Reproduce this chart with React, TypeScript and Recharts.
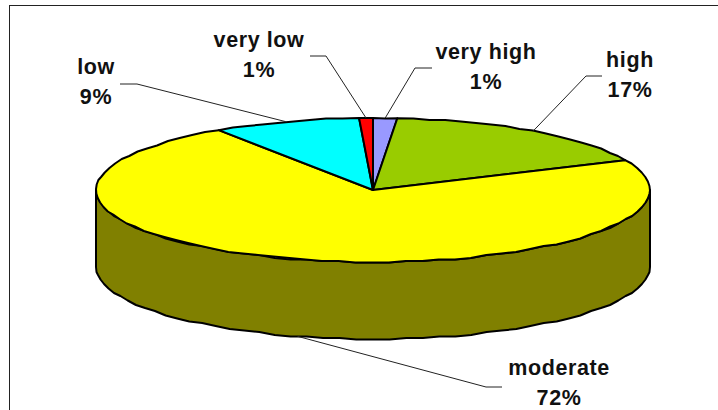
import { PieChart, Pie, Cell } from "recharts";

const categories = ["very high", "high", "moderate", "low", "very low"];
const shares = [1.4, 16.8, 72.4, 8.6, 0.8];
const colors = ["#9999ff", "#99cc00", "#ffff00", "#00ffff", "#ff0000"];

const data = categories.map((name, i) => ({ name, value: shares[i] }));

const FLATTEN = 0.26;
const DEPTH = 77;
const WALL = "#808000";

// text centre + elbow of the leader line for each label, same order as categories
const labelSpots = [
  { x: 486, y: 52, elbow: [415, 68], end: [432, 68] },
  { x: 630, y: 60, elbow: [586, 76], end: [602, 76] },
  { x: 559, y: 368, elbow: [486, 387], end: [502, 387] },
  { x: 96, y: 67, elbow: [137, 84], end: [120, 84] },
  { x: 259, y: 40, elbow: [326, 56], end: [310, 56] },
];

const RAD = Math.PI / 180;

function onEllipse(cx: number, cy: number, r: number, deg: number) {
  return [cx + r * Math.cos(deg * RAD), cy - r * FLATTEN * Math.sin(deg * RAD)];
}

// the reference rim is a slightly stepped outline, not a true curve
function rim(cx: number, cy: number, r: number, from: number, to: number) {
  const pts: number[][] = [];
  const steps = Math.max(1, Math.ceil(Math.abs(from - to) / 3.5));
  for (let i = 0; i <= steps; i++) {
    const [x, y] = onEllipse(cx, cy, r, from + ((to - from) * i) / steps);
    pts.push([x, i === 0 || i === steps ? y : Math.round(y / 1.5) * 1.5]);
  }
  return pts;
}

const toPath = (pts: number[][]) => pts.map((p) => `${p[0]},${p[1]}`).join(" L");

function TiltedSlice(props: any) {
  const { cx, cy, outerRadius: r, startAngle, endAngle, fill } = props;
  const top = `M${cx},${cy} L${toPath(rim(cx, cy, r, startAngle, endAngle))} Z`;

  // only the front half of the rim shows a wall (angles 0..-180 going clockwise)
  const from = Math.min(startAngle, 0);
  const to = Math.max(endAngle, -180);
  let wall = null;
  if (from > to) {
    const upper = rim(cx, cy, r, from, to);
    const lower = upper.map((p) => [p[0], p[1] + DEPTH]).reverse();
    wall = (
      <path
        d={`M${toPath(upper)} L${toPath(lower)} Z`}
        fill={WALL}
        stroke="#000"
        strokeWidth={2}
        strokeLinejoin="round"
      />
    );
  }
  return (
    <g>
      {wall}
      <path d={top} fill={fill} stroke="#000" strokeWidth={2} strokeLinejoin="round" />
    </g>
  );
}

function SliceLabel(props: any) {
  const { cx, cy, outerRadius: r, midAngle, index, name, value } = props;
  const spot = labelSpots[index];
  let [ax, ay] = onEllipse(cx, cy, r, midAngle);
  if (Math.sin(midAngle * RAD) < 0) ay += DEPTH;
  return (
    <g>
      <polyline
        points={`${ax},${ay} ${spot.elbow[0]},${spot.elbow[1]} ${spot.end[0]},${spot.end[1]}`}
        fill="none"
        stroke="#222"
        strokeWidth={1}
      />
      <text
        textAnchor="middle"
        fontFamily="Liberation Sans"
        fontWeight="bold"
        fontSize={21.5}
        letterSpacing={0.6}
        fill="#111"
      >
        <tspan x={spot.x} y={spot.y + 7}>{name}</tspan>
        <tspan x={spot.x} y={spot.y + 37}>{Math.round(value)}%</tspan>
      </text>
    </g>
  );
}

export default function App() {
  return (
    <div style={{ position: "absolute", left: 0, top: 0, width: 718, height: 410, overflow: "hidden", background: "#fff" }}>
      <div style={{ position: "absolute", left: 9, top: 5, right: 0, bottom: 0, borderTop: "1px solid #222", borderLeft: "1px solid #222" }} />
      <PieChart
        width={718}
        height={410}
        margin={{ top: 0, right: 0, bottom: 0, left: 0 }}
        style={{ position: "absolute", left: 0, top: 0 }}
      >
        <Pie
          data={data}
          dataKey="value"
          nameKey="name"
          cx={373}
          cy={190}
          outerRadius={277}
          startAngle={90}
          endAngle={-270}
          isAnimationActive={false}
          shape={TiltedSlice}
          label={SliceLabel}
          labelLine={false}
        >
          {data.map((d, i) => (
            <Cell key={d.name} fill={colors[i]} />
          ))}
        </Pie>
      </PieChart>
    </div>
  );
}
